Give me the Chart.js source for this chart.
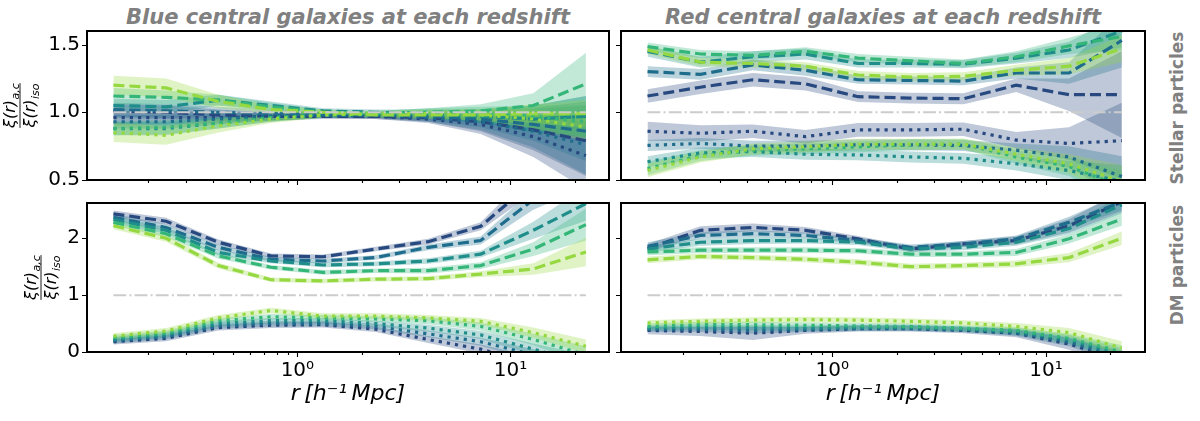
<!DOCTYPE html>
<html>
<head>
<meta charset="utf-8">
<script src="https://cdn.jsdelivr.net/npm/chart.js@4.4.1/dist/chart.umd.min.js"></script>
<style>
  body { margin: 0; background: #fff; width: 1200px; height: 421px; position: relative; overflow: hidden; }
  canvas { position: absolute; }
  .title { position: absolute; top: 5px; height: 24px; line-height: 24px; text-align: center;
           font: italic bold 21px "DejaVu Sans"; color: #808080; white-space: nowrap; }
  .side { position: absolute; width: 200px; height: 20px; line-height: 20px; text-align: center;
          font: bold 17px "DejaVu Sans"; color: #808080; transform: rotate(-90deg); white-space: nowrap; }
</style>
</head>
<body>
<div class="title" style="left:87px;width:522px">Blue central galaxies at each redshift</div>
<div class="title" style="left:621px;width:524px">Red central galaxies at each redshift</div>
<div class="side" style="left:1077px;top:98px">Stellar particles</div>
<div class="side" style="left:1077px;top:255px">DM particles</div>

<canvas id="tl" width="612" height="200" style="left:0;top:0;width:612px;height:200px"></canvas>
<canvas id="tr" width="588" height="200" style="left:612px;top:0;width:588px;height:200px"></canvas>
<canvas id="bl" width="612" height="221" style="left:0;top:200px;width:612px;height:221px"></canvas>
<canvas id="br" width="588" height="221" style="left:612px;top:200px;width:588px;height:221px"></canvas>

<script>
// separation bins, h^-1 Mpc
const r = [0.137, 0.242, 0.426, 0.751, 1.32, 2.33, 4.11, 7.25, 12.8, 22.6]
// one colour per redshift (navy = first, yellow-green = last)
const zColors = ['#28497f', '#1f6d8c', '#1f8d8a', '#34b679', '#95d840']

const xMajorTicks = [1, 10]
const xTickLabels = ['10⁰', '10¹']
const xMinorTicks = [0.2, 0.3, 0.4, 0.5, 0.6, 0.7, 0.8, 0.9, 2, 3, 4, 5, 6, 7, 8, 9, 20]
const yTicksStellar = [0.5, 1.0, 1.5]
const yLabelsStellar = ['0.5', '1.0', '1.5']
const yTicksDM = [0, 1, 2]
const yLabelsDM = ['0', '1', '2']
const refLevel = 1

// Blue centrals, stellar particles (a = dashed, c = dotted)
const blueStellarA = [
  [1.01, 1.00, 0.98, 0.97, 0.97, 0.97, 0.96, 0.93, 0.87, 0.79],
  [1.02, 1.01, 1.00, 0.99, 0.98, 0.98, 0.97, 0.95, 0.91, 0.86],
  [1.05, 1.04, 1.09, 1.05, 1.01, 1.00, 0.99, 0.97, 0.95, 0.97],
  [1.12, 1.11, 1.09, 1.04, 1.00, 0.99, 1.00, 1.01, 1.05, 1.21],
  [1.20, 1.18, 1.08, 1.02, 1.00, 0.98, 0.98, 0.98, 0.99, 0.99]
]
const blueStellarAErr = [
  [0.05, 0.05, 0.04, 0.03, 0.02, 0.02, 0.03, 0.07, 0.15, 0.26],
  [0.05, 0.05, 0.04, 0.03, 0.02, 0.02, 0.03, 0.06, 0.12, 0.22],
  [0.05, 0.05, 0.04, 0.03, 0.02, 0.02, 0.03, 0.05, 0.10, 0.15],
  [0.06, 0.05, 0.04, 0.03, 0.02, 0.02, 0.03, 0.05, 0.09, 0.23],
  [0.07, 0.07, 0.05, 0.03, 0.02, 0.02, 0.03, 0.04, 0.07, 0.10]
]
const blueStellarC = [
  [0.96, 0.96, 0.96, 0.97, 0.98, 0.97, 0.95, 0.91, 0.82, 0.68],
  [0.93, 0.93, 0.95, 0.97, 0.98, 0.98, 0.96, 0.93, 0.86, 0.76],
  [0.88, 0.88, 0.92, 0.96, 0.98, 0.98, 0.98, 0.97, 0.95, 0.97],
  [0.88, 0.89, 0.92, 0.96, 0.98, 0.99, 1.00, 0.99, 0.97, 0.93],
  [0.85, 0.83, 0.90, 0.95, 0.98, 0.99, 0.99, 0.98, 0.95, 0.89]
]
const blueStellarCErr = [
  [0.05, 0.05, 0.04, 0.03, 0.02, 0.02, 0.03, 0.07, 0.15, 0.25],
  [0.05, 0.05, 0.04, 0.03, 0.02, 0.02, 0.03, 0.06, 0.12, 0.22],
  [0.05, 0.05, 0.04, 0.03, 0.02, 0.02, 0.03, 0.05, 0.10, 0.15],
  [0.05, 0.05, 0.04, 0.03, 0.02, 0.02, 0.03, 0.05, 0.08, 0.12],
  [0.07, 0.07, 0.05, 0.03, 0.02, 0.02, 0.03, 0.04, 0.07, 0.10]
]

// Red centrals, stellar particles
const redStellarA = [
  [1.12, 1.185, 1.24, 1.21, 1.115, 1.105, 1.10, 1.20, 1.13, 1.13],
  [1.30, 1.28, 1.35, 1.31, 1.24, 1.235, 1.23, 1.29, 1.29, 1.53],
  [1.45, 1.37, 1.41, 1.43, 1.36, 1.36, 1.355, 1.40, 1.46, 1.60],
  [1.485, 1.43, 1.42, 1.45, 1.40, 1.38, 1.36, 1.41, 1.49, 1.56],
  [1.46, 1.37, 1.36, 1.34, 1.275, 1.26, 1.265, 1.31, 1.34, 1.47]
]
const redStellarAErr = [
  [0.05, 0.05, 0.05, 0.05, 0.04, 0.04, 0.04, 0.05, 0.12, 0.32],
  [0.04, 0.04, 0.04, 0.04, 0.03, 0.03, 0.03, 0.04, 0.08, 0.20],
  [0.04, 0.04, 0.04, 0.04, 0.03, 0.03, 0.03, 0.04, 0.06, 0.12],
  [0.03, 0.03, 0.03, 0.03, 0.03, 0.03, 0.03, 0.04, 0.06, 0.10],
  [0.03, 0.03, 0.03, 0.03, 0.03, 0.03, 0.03, 0.04, 0.06, 0.10]
]
const redStellarC = [
  [0.86, 0.845, 0.86, 0.82, 0.87, 0.87, 0.875, 0.795, 0.77, 0.79],
  [0.755, 0.77, 0.75, 0.75, 0.76, 0.76, 0.755, 0.72, 0.67, 0.525],
  [0.635, 0.70, 0.71, 0.69, 0.685, 0.67, 0.66, 0.62, 0.57, 0.49],
  [0.585, 0.68, 0.72, 0.73, 0.745, 0.76, 0.765, 0.67, 0.60, 0.45],
  [0.57, 0.67, 0.73, 0.745, 0.765, 0.765, 0.765, 0.69, 0.62, 0.49]
]
const redStellarCErr = [
  [0.07, 0.06, 0.05, 0.05, 0.05, 0.05, 0.05, 0.06, 0.12, 0.28],
  [0.04, 0.04, 0.04, 0.04, 0.04, 0.04, 0.04, 0.05, 0.08, 0.15],
  [0.04, 0.04, 0.04, 0.04, 0.04, 0.04, 0.04, 0.05, 0.07, 0.12],
  [0.05, 0.04, 0.04, 0.04, 0.04, 0.04, 0.04, 0.05, 0.07, 0.12],
  [0.05, 0.04, 0.04, 0.04, 0.04, 0.04, 0.04, 0.05, 0.07, 0.12]
]

// Blue centrals, DM particles
const blueDMA = [
  [2.43, 2.30, 1.93, 1.69, 1.675, 1.81, 1.94, 2.21, 3.00, 3.60],
  [2.37, 2.19, 1.84, 1.63, 1.60, 1.66, 1.84, 1.96, 2.68, 3.20],
  [2.33, 2.14, 1.75, 1.60, 1.53, 1.55, 1.60, 1.72, 2.14, 2.61],
  [2.28, 2.08, 1.69, 1.49, 1.40, 1.43, 1.43, 1.52, 1.81, 2.24],
  [2.22, 2.00, 1.52, 1.27, 1.25, 1.28, 1.29, 1.37, 1.46, 1.76]
]
const blueDMAErr = [
  [0.06, 0.06, 0.05, 0.04, 0.04, 0.04, 0.05, 0.07, 0.20, 0.35],
  [0.06, 0.06, 0.05, 0.04, 0.04, 0.04, 0.05, 0.07, 0.18, 0.30],
  [0.06, 0.06, 0.05, 0.04, 0.04, 0.04, 0.05, 0.06, 0.15, 0.30],
  [0.06, 0.06, 0.05, 0.04, 0.04, 0.04, 0.05, 0.06, 0.12, 0.28],
  [0.06, 0.06, 0.05, 0.04, 0.04, 0.04, 0.04, 0.05, 0.10, 0.25]
]
const blueDMC = [
  [0.18, 0.24, 0.43, 0.47, 0.48, 0.40, 0.22, 0.05, -0.20, -0.50],
  [0.20, 0.27, 0.46, 0.50, 0.50, 0.45, 0.32, 0.18, -0.05, -0.30],
  [0.22, 0.30, 0.50, 0.55, 0.55, 0.50, 0.42, 0.30, 0.05, -0.20],
  [0.25, 0.33, 0.55, 0.62, 0.60, 0.58, 0.55, 0.45, 0.22, -0.05],
  [0.28, 0.37, 0.60, 0.73, 0.63, 0.63, 0.60, 0.54, 0.34, 0.10]
]
const blueDMCErr = [
  [0.05, 0.05, 0.05, 0.05, 0.05, 0.05, 0.06, 0.08, 0.12, 0.18],
  [0.05, 0.05, 0.05, 0.05, 0.05, 0.05, 0.06, 0.07, 0.10, 0.15],
  [0.05, 0.05, 0.05, 0.05, 0.05, 0.05, 0.06, 0.07, 0.10, 0.15],
  [0.05, 0.05, 0.05, 0.05, 0.05, 0.05, 0.06, 0.07, 0.10, 0.15],
  [0.05, 0.05, 0.05, 0.05, 0.05, 0.05, 0.05, 0.06, 0.09, 0.12]
]

// Red centrals, DM particles
const redDMA = [
  [1.82, 2.14, 2.19, 2.14, 1.99, 1.81, 1.90, 1.96, 2.22, 2.64],
  [1.86, 2.05, 2.08, 2.05, 1.96, 1.84, 1.90, 1.99, 2.28, 2.64],
  [1.81, 1.93, 1.96, 1.96, 1.93, 1.81, 1.84, 1.93, 2.17, 2.59],
  [1.76, 1.79, 1.79, 1.79, 1.78, 1.72, 1.72, 1.75, 1.99, 2.34],
  [1.62, 1.68, 1.66, 1.63, 1.58, 1.50, 1.52, 1.55, 1.66, 2.00]
]
const redDMAErr = [
  [0.08, 0.07, 0.07, 0.06, 0.05, 0.05, 0.05, 0.07, 0.12, 0.18],
  [0.07, 0.06, 0.06, 0.05, 0.05, 0.05, 0.05, 0.06, 0.10, 0.15],
  [0.06, 0.06, 0.06, 0.05, 0.05, 0.05, 0.05, 0.06, 0.10, 0.15],
  [0.06, 0.05, 0.05, 0.05, 0.05, 0.05, 0.05, 0.06, 0.08, 0.12],
  [0.06, 0.05, 0.05, 0.05, 0.05, 0.05, 0.05, 0.06, 0.08, 0.12]
]
const redDMC = [
  [0.38, 0.36, 0.33, 0.38, 0.41, 0.41, 0.38, 0.33, 0.14, -0.15],
  [0.40, 0.40, 0.38, 0.40, 0.42, 0.42, 0.40, 0.34, 0.18, -0.10],
  [0.42, 0.44, 0.43, 0.42, 0.43, 0.43, 0.40, 0.36, 0.22, -0.05],
  [0.45, 0.48, 0.48, 0.47, 0.46, 0.45, 0.42, 0.38, 0.24, 0.00],
  [0.51, 0.54, 0.56, 0.57, 0.56, 0.54, 0.51, 0.45, 0.34, 0.07]
]
const redDMCErr = [
  [0.07, 0.08, 0.12, 0.06, 0.05, 0.05, 0.05, 0.07, 0.10, 0.15],
  [0.05, 0.05, 0.06, 0.05, 0.05, 0.05, 0.05, 0.06, 0.08, 0.12],
  [0.05, 0.05, 0.05, 0.05, 0.05, 0.05, 0.05, 0.06, 0.08, 0.12],
  [0.05, 0.05, 0.05, 0.05, 0.05, 0.05, 0.05, 0.06, 0.08, 0.12],
  [0.05, 0.05, 0.05, 0.05, 0.05, 0.05, 0.05, 0.06, 0.08, 0.12]
]

Chart.defaults.font.family = '"DejaVu Sans"'
Chart.defaults.color = '#000'

const xMin = 0.103
const xMax = 29

function rgba(hex, a) {
  let n = parseInt(hex.slice(1), 16)
  return `rgba(${n >> 16},${(n >> 8) & 255},${n & 255},${a})`
}

// xi(r) with a subscript, italic; returns width
function mathTerm(ctx, sub, x, y, draw) {
  ctx.font = 'italic 16px "DejaVu Sans"'
  let w1 = ctx.measureText('ξ(r)').width
  if (draw) ctx.fillText('ξ(r)', x, y)
  ctx.font = 'italic 11px "DejaVu Sans"'
  let w2 = ctx.measureText(sub).width
  if (draw) ctx.fillText(sub, x + w1 + 0.5, y + 4)
  return w1 + 0.5 + w2
}

const framePlugin = {
  id: 'frame',
  afterDraw(chart, args, opts) {
    const { ctx, chartArea: a, scales } = chart
    ctx.save()
    ctx.strokeStyle = '#000'
    ctx.lineWidth = 1.1
    ctx.beginPath()
    xMajorTicks.concat(xMinorTicks).forEach(v => {
      let px = Math.round(scales.x.getPixelForValue(v)) + 0.5
      let len = xMajorTicks.includes(v) ? 5 : 3
      ctx.moveTo(px, a.bottom)
      ctx.lineTo(px, a.bottom + len)
    })
    opts.yTicks.forEach(v => {
      let py = Math.round(scales.y.getPixelForValue(v)) + 0.5
      ctx.moveTo(a.left - 5, py)
      ctx.lineTo(a.left, py)
    })
    ctx.stroke()

    ctx.lineWidth = 2
    ctx.strokeRect(a.left, a.top, a.right - a.left, a.bottom - a.top)

    if (opts.fracX) {
      ctx.translate(opts.fracX, (a.top + a.bottom) / 2)
      ctx.rotate(-Math.PI / 2)
      ctx.fillStyle = '#000'
      ctx.textBaseline = 'alphabetic'
      let wn = mathTerm(ctx, 'a,c', 0, 0, false)
      let wd = mathTerm(ctx, 'iso', 0, 0, false)
      let w = Math.max(wn, wd)
      mathTerm(ctx, 'a,c', -wn / 2, -5, true)
      mathTerm(ctx, 'iso', -wd / 2, 15, true)
      ctx.lineWidth = 0.9
      ctx.beginPath()
      ctx.moveTo(-w / 2, 0)
      ctx.lineTo(w / 2, 0)
      ctx.stroke()
    }
    ctx.restore()
  }
}

function makePanel(p) {
  const datasets = []
  let k = 0
  p.a.forEach((row, i) => {
    [[row, p.aErr[i], [11, 5]], [p.c[i], p.cErr[i], [3.2, 5]]].forEach(([vals, errs, dash]) => {
      k++
      datasets.push({
        data: r.map((x, j) => ({ x, y: vals[j] + errs[j] })),
        borderColor: 'transparent', borderWidth: 0, pointRadius: 0,
        backgroundColor: rgba(zColors[i], 0.3), fill: '+1', order: 1000 - k
      })
      datasets.push({
        data: r.map((x, j) => ({ x, y: vals[j] - errs[j] })),
        borderColor: 'transparent', borderWidth: 0, pointRadius: 0,
        fill: false, order: 1000 - k
      })
      datasets.push({
        data: r.map((x, j) => ({ x, y: vals[j] })),
        borderColor: zColors[i], borderWidth: 3.2, borderDash: dash,
        borderCapStyle: 'butt', pointRadius: 0, fill: false, tension: 0,
        clip: 0, order: -k
      })
    })
  })
  datasets.push({
    data: r.map(x => ({ x, y: refLevel })),
    borderColor: '#cccccc', borderWidth: 2, borderDash: [12.8, 3.2, 2, 3.2],
    borderCapStyle: 'butt', pointRadius: 0, fill: false, order: -100
  })

  new Chart(document.getElementById(p.id), {
    type: 'line',
    data: { datasets },
    options: {
      responsive: false,
      animation: false,
      devicePixelRatio: 1,
      layout: { padding: p.pad },
      plugins: {
        legend: { display: false },
        tooltip: { enabled: false },
        frame: { yTicks: p.yTicks, fracX: p.fracX }
      },
      scales: {
        x: {
          type: 'logarithmic', min: xMin, max: xMax,
          grid: { display: false, drawTicks: false },
          border: { display: false },
          ticks: {
            display: p.showX, autoSkip: false, maxRotation: 0, padding: 7,
            font: { size: 20 }, color: '#000',
            callback: (v, i) => xTickLabels[i]
          },
          title: {
            display: p.showX, text: 'r\u2009[h⁻¹\u2009Mpc]', color: '#000',
            font: { size: 22, style: 'italic' }, padding: { top: 0, bottom: 14 }
          },
          afterBuildTicks: s => { s.ticks = xMajorTicks.map(v => ({ value: v })) },
          afterFit: s => { s.height = p.xH; s.paddingLeft = 0; s.paddingRight = 0 }
        },
        y: {
          min: p.yMin, max: p.yMax,
          grid: { display: false, drawTicks: false },
          border: { display: false },
          ticks: {
            display: p.showY, padding: 7, font: { size: 20 }, color: '#000',
            callback: (v, i) => p.yLabels[i]
          },
          afterBuildTicks: s => { s.ticks = p.yTicks.map(v => ({ value: v })) },
          afterFit: s => { s.width = p.yW; s.paddingTop = 0; s.paddingBottom = 0 }
        }
      }
    },
    plugins: [framePlugin]
  })
}

makePanel({ id: 'tl', a: blueStellarA, aErr: blueStellarAErr, c: blueStellarC, cErr: blueStellarCErr,
  yMin: 0.5, yMax: 1.6, yTicks: yTicksStellar, yLabels: yLabelsStellar,
  showX: false, showY: true, yW: 87, xH: 20, pad: { top: 31, right: 3, left: 0, bottom: 0 }, fracX: 20 })
makePanel({ id: 'tr', a: redStellarA, aErr: redStellarAErr, c: redStellarC, cErr: redStellarCErr,
  yMin: 0.5, yMax: 1.6, yTicks: yTicksStellar, yLabels: yLabelsStellar,
  showX: false, showY: false, yW: 9, xH: 20, pad: { top: 31, right: 55, left: 0, bottom: 0 } })
makePanel({ id: 'bl', a: blueDMA, aErr: blueDMAErr, c: blueDMC, cErr: blueDMCErr,
  yMin: 0, yMax: 2.62, yTicks: yTicksDM, yLabels: yLabelsDM,
  showX: true, showY: true, yW: 87, xH: 69, pad: { top: 3, right: 3, left: 0, bottom: 0 }, fracX: 41 })
makePanel({ id: 'br', a: redDMA, aErr: redDMAErr, c: redDMC, cErr: redDMCErr,
  yMin: 0, yMax: 2.62, yTicks: yTicksDM, yLabels: yLabelsDM,
  showX: true, showY: false, yW: 9, xH: 69, pad: { top: 3, right: 55, left: 0, bottom: 0 } })
</script>
</body>
</html>
